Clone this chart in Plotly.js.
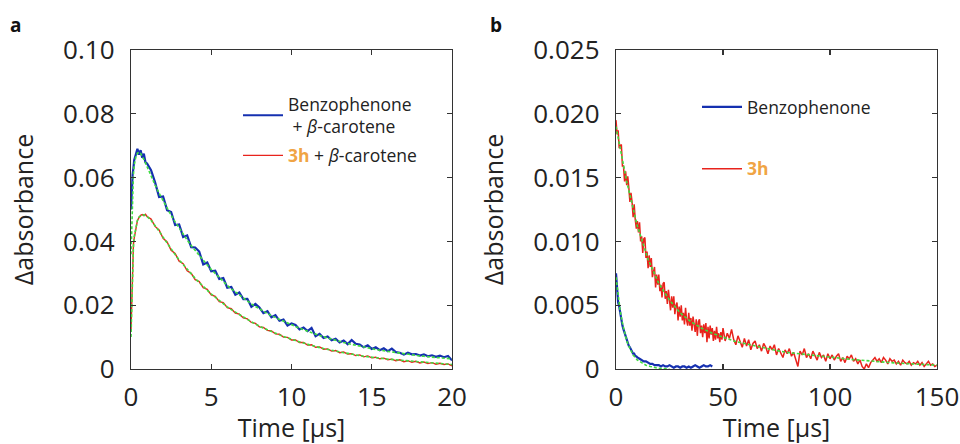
<!DOCTYPE html>
<html>
<head>
<meta charset="utf-8">
<script src="https://cdn.plot.ly/plotly-3.0.1.min.js"></script>
<style>html,body{margin:0;padding:0;background:#fff;}#chart{width:960px;height:444px;}</style>
</head>
<body>
<div id="chart"></div>
<script>
// ---------- Panel a : Benzophenone + beta-carotene / 3h + beta-carotene ----------
const timeA = [0,0.05,0.1,0.15,0.2,0.3,0.4,0.5,0.6,0.7,0.8,0.9,1,
  1.25,1.5,1.75,2,2.25,2.5,2.75,3,3.25,3.5,3.75,4,4.25,4.5,4.75,5,
  5.25,5.5,5.75,6,6.25,6.5,6.75,7,7.25,7.5,7.75,8,8.25,8.5,8.75,9,
  9.25,9.5,9.75,10,10.25,10.5,10.75,11,11.25,11.5,11.75,12,12.25,12.5,12.75,13,
  13.25,13.5,13.75,14,14.25,14.5,14.75,15,15.25,15.5,15.75,16,16.25,16.5,16.75,17,
  17.25,17.5,17.75,18,18.25,18.5,18.75,19,19.25,19.5,19.75,20];

const benzoCaroteneA = [0.050,0.057,0.061,0.063,0.0655,0.0672,0.0690,0.0672,0.0686,0.0662,0.0675,0.0648,0.0644,
  0.0623,0.0585,0.0539,0.0541,0.0498,0.0492,0.0451,0.0453,
  0.0414,0.0419,0.0382,0.0381,0.0368,0.0328,0.0334,0.0306,
  0.0308,0.0282,0.0285,0.0255,0.0257,0.0233,0.0240,0.0219,
  0.0220,0.0195,0.0204,0.0193,0.0175,0.0181,0.0162,0.0169,
  0.0151,0.0155,0.0136,0.0143,0.0138,0.0124,0.0130,0.0119,
  0.0129,0.0103,0.0110,0.0097,0.0102,0.0090,0.0095,0.0083,
  0.0089,0.0078,0.0091,0.0079,0.0077,0.0068,0.0074,0.0063,
  0.0068,0.0059,0.0065,0.0056,0.0064,0.0053,0.0051,0.0045,
  0.0051,0.0046,0.0047,0.0042,0.0046,0.0040,0.0043,0.0038,
  0.0042,0.0037,0.0041,0.0027];

const benzoCaroteneFitA = [0.036,0.048,0.056,0.061,0.064,0.0665,0.0676,0.0680,0.0676,0.0668,0.0657,0.0646,0.0634,
  0.0603,0.0577,0.0551,0.0527,0.0504,0.0482,0.0461,0.0441,
  0.0422,0.0404,0.0387,0.0371,0.0355,0.0340,0.0326,0.0312,
  0.0299,0.0286,0.0274,0.0262,0.0251,0.0241,0.0231,0.0222,
  0.0213,0.0204,0.0196,0.0188,0.0181,0.0174,0.0167,0.0161,
  0.0155,0.0149,0.0143,0.0138,0.0133,0.0128,0.0123,0.0118,
  0.0114,0.0109,0.0105,0.0101,0.0097,0.0093,0.0090,0.0086,
  0.0083,0.0080,0.0077,0.0074,0.0071,0.0068,0.0066,0.0063,
  0.0061,0.0059,0.0057,0.0055,0.0053,0.0051,0.0049,0.0047,
  0.0046,0.0044,0.0043,0.0041,0.0040,0.0038,0.0037,0.0036,
  0.0035,0.0034,0.0033,0.0032];

const h3CaroteneA = [0.0120,0.025,0.034,0.039,0.041,0.0445,0.0465,0.0475,0.0482,0.0484,0.0481,0.0485,0.0478,
  0.0470,0.0447,0.0436,0.0410,0.0398,0.0372,0.0362,0.0338,
  0.0330,0.0308,0.0300,0.0280,0.0274,0.0255,0.0250,0.0232,
  0.0228,0.0211,0.0208,0.0192,0.0189,0.0175,0.0172,0.0160,
  0.0157,0.0146,0.0143,0.0132,0.0130,0.0121,0.0119,0.0110,
  0.0109,0.0100,0.0099,0.0091,0.0091,0.0083,0.0083,0.0075,
  0.0076,0.0068,0.0069,0.0062,0.0063,0.0056,0.0058,0.0051,
  0.0053,0.0047,0.0048,0.0042,0.0044,0.0038,0.0041,0.0035,
  0.0037,0.0032,0.0034,0.0029,0.0031,0.0026,0.0029,0.0023,
  0.0026,0.0021,0.0024,0.0019,0.0022,0.0017,0.0020,0.0015,
  0.0018,0.0014,0.0016,0.0010];

const h3CaroteneFitA = [0.010,0.022,0.032,0.038,0.0415,0.0447,0.0466,0.0476,0.0481,0.0483,0.0483,0.0481,0.0478,
  0.0466,0.0450,0.0432,0.0413,0.0394,0.0376,0.0359,0.0342,
  0.0327,0.0312,0.0297,0.0284,0.0271,0.0258,0.0247,0.0235,
  0.0225,0.0214,0.0205,0.0195,0.0186,0.0178,0.0170,0.0162,
  0.0155,0.0148,0.0141,0.0134,0.0128,0.0123,0.0117,0.0112,
  0.0107,0.0102,0.0097,0.0093,0.0089,0.0085,0.0081,0.0077,
  0.0074,0.0070,0.0067,0.0064,0.0061,0.0058,0.0056,0.0053,
  0.0051,0.0049,0.0046,0.0044,0.0042,0.0040,0.0039,0.0037,
  0.0035,0.0034,0.0032,0.0031,0.0029,0.0028,0.0027,0.0025,
  0.0024,0.0023,0.0022,0.0021,0.0020,0.0019,0.0018,0.0017,
  0.0016,0.0016,0.0015,0.0014];

// ---------- Panel b : Benzophenone / 3h ----------
const timeBenzoB = [0,0.5,1,1.5,2,2.5,3,3.5,4,4.5,5,5.5,6,6.5,7,7.5,8,8.5,9,9.5,10,
  11,12,13,14,15,16,17,18,19,20,21,22,23,24,25,26,27,28,29,30,
  31,32,33,34,35,36,37,38,39,40,41,42,43,44,45];
const benzoB = [0.0075,0.0062,0.0052,0.0049,0.0043,0.0040,0.0034,0.0031,0.0028,0.0025,0.0022,0.0020,0.0018,0.0017,0.0015,0.0014,0.0012,0.0012,0.0010,0.0010,0.0009,
  0.0008,0.0007,0.0006,0.0006,0.0005,0.0004,0.0004,0.0003,0.0003,0.0003,0.0002,0.0003,0.0002,0.0002,0.0003,0.0002,0.0001,0.0002,0.0002,0.0001,
  0.0002,0.0002,0.0001,0.0002,0.0001,0.0002,0.0003,0.0002,0.0001,0.0002,0.0003,0.0002,0.0002,0.0003,0.0002];
const timeBenzoFitB = [0,1,2,3,4,5,6,7,8,9,10,12,14,16,18,20,25];
const benzoFitB = [0.0072,0.0057,0.0045,0.0036,0.0028,0.0022,0.0018,0.0014,0.0011,0.0009,0.0007,0.0005,0.0003,0.0002,0.0001,0.00005,0.0];

const time3hB = [0,0.5,1,1.5,2,2.5,3,3.5,4,4.5,5,5.5,6,6.5,7,7.5,8,8.5,9,9.5,
  10,10.5,11,11.5,12,12.5,13,13.5,14,14.5,15,15.5,16,16.5,17,17.5,18,18.5,19,19.5,
  20,20.5,21,21.5,22,22.5,23,23.5,24,24.5,25,25.5,26,26.5,27,27.5,28,28.5,29,29.5,
  30,30.5,31,31.5,32,32.5,33,33.5,34,34.5,35,35.5,36,36.5,37,37.5,38,38.5,39,39.5,
  40,40.5,41,41.5,42,42.5,43,43.5,44,44.5,45,45.5,46,46.5,47,47.5,48,48.5,49,49.5,50,
  51,52,53,54,55,56,57,58,59,60,61,62,63,64,65,66,67,68,69,70,
  71,72,73,74,75,76,77,78,79,80,81,82,83,84,85,86,87,88,89,90,
  91,92,93,94,95,96,97,98,99,100,101,102,103,104,105,106,107,108,109,110,
  111,112,113,114,115,116,117,118,119,120,121,122,123,124,125,126,127,128,129,130,
  131,132,133,134,135,136,137,138,139,140,141,142,143,144,145,146,147,148,149,150];
const h3B = [0.0195,0.0184,0.0187,0.0173,0.0175,0.0176,0.0159,0.0159,0.0147,0.0155,
  0.0144,0.0151,0.0142,0.0131,0.0138,0.0131,0.0119,0.0129,0.0117,0.0110,
  0.0116,0.0107,0.0115,0.0100,0.0104,0.0091,0.0102,0.0103,0.0087,0.0092,
  0.0079,0.0089,0.0080,0.0087,0.0072,0.0077,0.0080,0.0064,0.0074,0.0066,
  0.0074,0.0061,0.0066,0.0056,0.0067,0.0068,0.0055,0.0061,0.0051,0.0062,
  0.0052,0.0046,0.0057,0.0048,0.0057,0.0043,0.0050,0.0052,0.0038,0.0049,
  0.0041,0.0050,0.0038,0.0044,0.0035,0.0048,0.0038,0.0034,0.0044,0.0034,
  0.0040,0.0030,0.0041,0.0036,0.0029,0.0039,0.0026,0.0037,0.0039,0.0028,
  0.0034,0.0025,0.0035,0.0028,0.0036,0.0021,0.0033,0.0024,0.0034,0.0027,
  0.0032,0.0022,0.0030,0.0023,0.0033,0.0024,0.0028,0.0021,0.0029,0.0023,0.0032,
  0.0022,0.0028,0.0024,0.0031,0.0023,0.0019,0.0026,0.0021,0.0017,0.0024,
  0.0018,0.0023,0.0015,0.0020,0.0022,0.0016,0.0019,0.0014,0.0020,0.0017,
  0.0012,0.0018,0.0015,0.0019,0.0011,0.0016,0.0013,0.0009,0.0015,0.0012,
  0.0016,0.0010,0.0013,0.0008,0.0002,0.0014,0.0011,0.0016,0.0009,0.0012,
  0.0008,0.0014,0.0010,0.0007,0.0013,0.0009,0.0011,0.0006,0.0012,0.0008,
  0.0011,0.0007,0.0010,0.0012,0.0006,0.0009,0.0005,0.0010,0.0008,0.0011,
  0.0006,0.0008,0.0004,0.0007,0.0002,0.0000,0.0004,0.0001,0.0005,0.0007,
  0.0009,0.0006,0.0008,0.0005,0.0009,0.0007,0.0004,0.0008,0.0006,0.0007,
  0.0004,0.0006,0.0003,0.0007,0.0005,0.0004,0.0006,0.0003,0.0005,0.0004,
  0.0006,0.0003,0.0005,0.0002,0.0004,0.0006,0.0003,0.0004,0.0002,0.0003];
const time3hFitB = [0,5,10,15,20,25,30,35,40,45,50,55,60,65,70,75,80,85,90,95,100,105,110,115,120,125,130,135,140,145,150];
const h3FitB = [0.0190,0.0147,0.0112,0.0086,0.0067,0.0054,0.0044,0.0037,0.0032,0.0028,0.0025,0.0022,0.0020,0.0018,0.0016,0.00145,0.0013,0.0012,0.0011,0.0010,0.0009,0.00083,0.00075,0.00068,0.0006,0.00054,0.00048,0.00043,0.00038,0.00034,0.0003];

// ---------- tick labels ----------
const yTickValsA = [0,0.02,0.04,0.06,0.08,0.10];
const yTickTextA = ['0','0.02','0.04','0.06','0.08','0.10'];
const xTickValsA = [0,5,10,15,20];
const yTickValsB = [0,0.005,0.010,0.015,0.020,0.025];
const yTickTextB = ['0','0.005','0.010','0.015','0.020','0.025'];
const xTickValsB = [0,50,100,150];

const BLUE = '#1530b0', RED = '#e8231c', GREEN = '#3fdc3f', ORANGE = '#f0a444';
const FONT = 'Open Sans, Noto Sans, sans-serif';

const fitLine = {color: GREEN, width: 1.6, dash: '3px,2px'};

const traces = [
  {x: timeA, y: benzoCaroteneA, xaxis: 'x', yaxis: 'y', type: 'scatter', mode: 'lines',
   line: {color: BLUE, width: 2.2}, name: 'Benzophenone<br> + <i>β</i>-carotene', legend: 'legend', legendgroup: 'a1'},
  {x: timeA, y: h3CaroteneA, xaxis: 'x', yaxis: 'y', type: 'scatter', mode: 'lines',
   line: {color: RED, width: 1.4}, name: '<b><span style="color:' + ORANGE + '">3h</span></b> + <i>β</i>-carotene', legend: 'legend', legendgroup: 'a2'},
  {x: timeA, y: benzoCaroteneFitA, xaxis: 'x', yaxis: 'y', type: 'scatter', mode: 'lines', line: fitLine, showlegend: false},
  {x: timeA, y: h3CaroteneFitA, xaxis: 'x', yaxis: 'y', type: 'scatter', mode: 'lines', line: fitLine, showlegend: false},

  {x: timeBenzoB, y: benzoB, xaxis: 'x2', yaxis: 'y2', type: 'scatter', mode: 'lines',
   line: {color: BLUE, width: 2.2}, name: 'Benzophenone', legend: 'legend2', legendgroup: 'b1'},
  {x: time3hB, y: h3B, xaxis: 'x2', yaxis: 'y2', type: 'scatter', mode: 'lines',
   line: {color: RED, width: 1.5}, name: '<b><span style="color:' + ORANGE + '">3h</span></b>', legend: 'legend2', legendgroup: 'b2'},
  {x: timeBenzoFitB, y: benzoFitB, xaxis: 'x2', yaxis: 'y2', type: 'scatter', mode: 'lines', line: fitLine, showlegend: false},
  {x: time3hFitB, y: h3FitB, xaxis: 'x2', yaxis: 'y2', type: 'scatter', mode: 'lines', line: fitLine, showlegend: false}
];

const axisBase = {
  showline: true, linecolor: '#333', linewidth: 1.3, mirror: 'ticks',
  ticks: 'inside', ticklen: 5, tickwidth: 1.2, tickcolor: '#333',
  showgrid: false, zeroline: false, fixedrange: true,
  tickfont: {family: FONT, size: 26, color: '#222'},
  automargin: false
};

const W = 960, H = 444;
const yDom = [(H - 369) / H, (H - 50) / H];
const titleFont = {family: FONT, size: 25, color: '#222'};

const layout = {
  width: W, height: H,
  margin: {l: 0, r: 0, t: 0, b: 0},
  paper_bgcolor: '#fff', plot_bgcolor: '#fff',
  font: {family: FONT, color: '#222'},
  showlegend: true,
  xaxis: Object.assign({}, axisBase, {domain: [131 / W, 452 / W], range: [0, 20], tickvals: xTickValsA, anchor: 'y',
    ticklabelstandoff: 4, title: {text: 'Time [µs]', font: titleFont, standoff: 2}}),
  yaxis: Object.assign({}, axisBase, {domain: yDom, range: [0, 0.1], tickvals: yTickValsA, ticktext: yTickTextA, anchor: 'x',
    ticklabelstandoff: 10, title: {text: 'Δabsorbance', font: titleFont, standoff: 22}}),
  xaxis2: Object.assign({}, axisBase, {domain: [616 / W, 937 / W], range: [0, 150], tickvals: xTickValsB, anchor: 'y2',
    ticklabelstandoff: 4, title: {text: 'Time [µs]', font: titleFont, standoff: 2}}),
  yaxis2: Object.assign({}, axisBase, {domain: yDom, range: [0, 0.025], tickvals: yTickValsB, ticktext: yTickTextB, anchor: 'x2',
    ticklabelstandoff: 10, title: {text: 'Δabsorbance', font: titleFont, standoff: 22}}),
  legend: {x: 238 / W, xanchor: 'left', y: 1 - 86 / H, yanchor: 'top', bgcolor: 'rgba(0,0,0,0)',
    font: {family: FONT, size: 17.5, color: '#222'}, tracegroupgap: 3, itemwidth: 40},
  legend2: {x: 697 / W, xanchor: 'left', y: 1 - 89 / H, yanchor: 'top', bgcolor: 'rgba(0,0,0,0)',
    font: {family: FONT, size: 17.5, color: '#222'}, tracegroupgap: 36, itemwidth: 40},
  annotations: [
    {text: '<b>a</b>', xref: 'paper', yref: 'paper', x: 8 / W, y: 1 - 10 / H, xanchor: 'left', yanchor: 'top',
     showarrow: false, font: {family: FONT, size: 19, color: '#111'}},
    {text: '<b>b</b>', xref: 'paper', yref: 'paper', x: 488 / W, y: 1 - 10 / H, xanchor: 'left', yanchor: 'top',
     showarrow: false, font: {family: FONT, size: 19, color: '#111'}}
  ]
};

Plotly.newPlot('chart', traces, layout, {staticPlot: true, displayModeBar: false});
</script>
</body>
</html>
